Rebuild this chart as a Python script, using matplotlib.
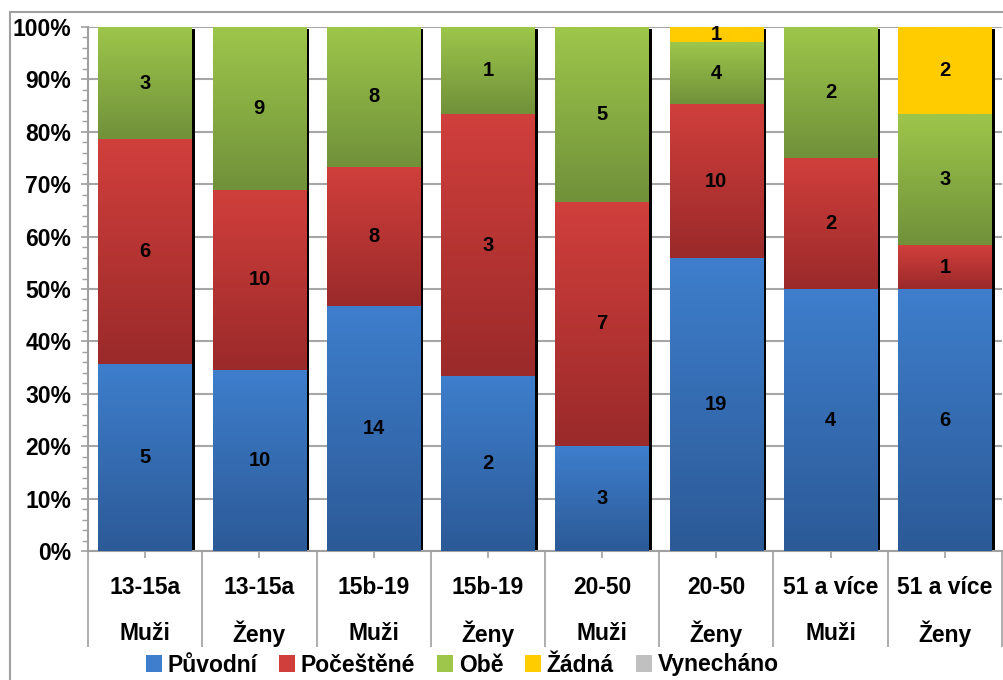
import numpy as np
import matplotlib
matplotlib.use('Agg')
import matplotlib.pyplot as plt
import matplotlib.transforms as mtransforms
from matplotlib.colors import LinearSegmentedColormap
from matplotlib.patches import Patch, Rectangle

plt.rcParams['font.family'] = ['Liberation Sans', 'DejaVu Sans']
plt.rcParams['font.weight'] = 'bold'

# data
vek = ['13-15a', '13-15a', '15b-19', '15b-19', '20-50', '20-50', '51 a více', '51 a více']
pohlavi = ['Muži', 'Ženy', 'Muži', 'Ženy', 'Muži', 'Ženy', 'Muži', 'Ženy']
puvodni = [5, 10, 14, 2, 3, 19, 4, 6]
pocestene = [6, 10, 8, 3, 7, 10, 2, 1]
obe = [3, 9, 8, 1, 5, 4, 2, 3]
zadna = [0, 0, 0, 0, 0, 1, 0, 2]
vynechano = [0, 0, 0, 0, 0, 0, 0, 0]

serie = ['Původní', 'Počeštěné', 'Obě', 'Žádná', 'Vynecháno']
hodnoty = [puvodni, pocestene, obe, zadna, vynechano]
# barvy: (nahore, dole)
barvy = [('#3e7ecc', '#2c5a97'),
         ('#d03f3c', '#9b2a2a'),
         ('#9dc64b', '#71913a'),
         ('#ffcc00', '#ffcc00'),
         ('#c0c0c0', '#c0c0c0')]

data = np.array(hodnoty, dtype=float)
celkem = data.sum(axis=0)
podil = data / celkem

fig = plt.figure(figsize=(10.04, 6.8), dpi=100)
ax = fig.add_axes([88/1004, 129/680, 914/1004, 524/680])

x = np.arange(len(vek))
sirka = 0.82

# stin vpravo za sloupci
stin = ax.transData + mtransforms.ScaledTranslation(3/100, -2/100, fig.dpi_scale_trans)
ax.bar(x, podil.sum(axis=0), sirka, color='black', transform=stin, zorder=1)

spodek = np.zeros(len(vek))
for i, jmeno in enumerate(serie):
    bars = ax.bar(x, podil[i], sirka, bottom=spodek, color=barvy[i][0],
                  label=jmeno, zorder=2)
    cmap = LinearSegmentedColormap.from_list('g%d' % i, [barvy[i][0], barvy[i][1]])
    for r in bars:
        if r.get_height() <= 0:
            continue
        x0, y0 = r.get_x(), r.get_y()
        w, h = r.get_width(), r.get_height()
        ax.imshow(np.linspace(0, 1, 64).reshape(-1, 1), cmap=cmap, aspect='auto',
                  extent=(x0, x0 + w, y0, y0 + h), origin='upper', zorder=3,
                  interpolation='bilinear')
    popisky = ['%d' % v if v > 0 else '' for v in data[i]]
    ax.bar_label(bars, labels=popisky, label_type='center', fontsize=14.5,
                 fontweight='bold', color='black', zorder=5)
    spodek += podil[i]

# bar_label texty nad gradienty
for t in ax.texts:
    t.set_zorder(6)

ax.set_xlim(-0.5, len(vek) - 0.5)
ax.set_ylim(0, 1)
ax.set_yticks(np.arange(0, 1.01, 0.1))
ax.set_yticklabels(['%d%%' % v for v in range(0, 101, 10)], fontsize=16.5)
ax.set_yticks(np.arange(0, 1.001, 0.02), minor=True)
ax.tick_params(axis='y', which='major', length=5, width=1.2, color='#a0a0a0', pad=7)
ax.tick_params(axis='y', which='minor', length=4, width=1.0, color='#a0a0a0')
ax.yaxis.grid(True, which='major', color='#a6a6a6', linewidth=1.5, zorder=0)
ax.set_axisbelow(True)

ax.set_xticks(x)
ax.set_xticklabels([])
ax.set_xticks(np.arange(-0.5, len(vek), 1.0), minor=True)
ax.tick_params(axis='x', which='major', length=5, width=1.2, color='#a0a0a0')
ax.tick_params(axis='x', which='minor', length=69, width=1.2, color='#a0a0a0')

for s in ['top', 'right']:
    ax.spines[s].set_visible(False)
for s in ['left', 'bottom']:
    ax.spines[s].set_color('#a0a0a0')
    ax.spines[s].set_linewidth(1.5)

tr = mtransforms.blended_transform_factory(ax.transData, ax.transAxes)
for i in range(len(vek)):
    ax.text(x[i], -0.069, vek[i], transform=tr, ha='center', va='center', fontsize=16.5)
    ax.text(x[i], -0.158, pohlavi[i], transform=tr, ha='center', va='center', fontsize=16.5)

# ramecek grafu
fig.patches.append(Rectangle((10/1004, -0.1), 1.2, (668/680) + 0.1, transform=fig.transFigure,
                             fill=False, edgecolor='#a0a0a0', linewidth=1.5))

handles = [Patch(facecolor=barvy[i][0], edgecolor='none') for i in range(len(serie))]
fig.legend(handles, serie, loc='center', bbox_to_anchor=(462/1004, 15/680), ncol=5,
           frameon=False, fontsize=16.5, handlelength=0.7, handleheight=0.7,
           handletextpad=0.25, columnspacing=0.95, borderpad=0, borderaxespad=0)

fig.savefig('out.png', dpi=100)
